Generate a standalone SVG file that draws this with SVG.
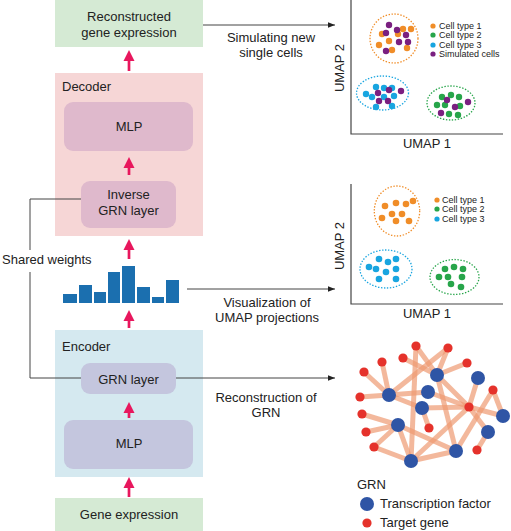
<svg xmlns="http://www.w3.org/2000/svg" width="511" height="531" viewBox="0 0 511 531">
<defs>
<style>
text{font-family:"Liberation Sans",Arial,sans-serif;fill:#222;}
.t13{font-size:13px;}
.mid{text-anchor:middle;}
.leg{font-size:9px;}
.pink{stroke:#e8175d;stroke-width:2.7;fill:none;}
.ph{fill:#e8175d;}
.conn{stroke:#444;stroke-width:1;fill:none;}
.axis{stroke:#444;stroke-width:1.2;fill:none;}
.bar{fill:#1b6faf;}
.or{fill:#f08d28;}.gr{fill:#27a54a;}.bl{fill:#18a5e0;}.pu{fill:#7a1f80;}
.ell{fill:none;stroke-width:1.3;stroke-dasharray:1.4 1.6;}
.edge{stroke:#ee9a72;stroke-opacity:0.7;stroke-width:5;fill:none;}
.tf{fill:#2f55a5;}.tg{fill:#e5322b;}
</style>
<marker id="ah" viewBox="0 0 10 10" refX="10" refY="5" markerWidth="7" markerHeight="7" markerUnits="userSpaceOnUse" orient="auto">
<path d="M0,1 L10,5 L0,9 z" fill="#222"/>
</marker>
</defs>

<g id="node-reconstructed">
<rect x="55" y="0" width="148" height="47" fill="#d5ead4"/>
<text class="t13 mid" x="129" y="21">Reconstructed</text>
<text class="t13 mid" x="129" y="37">gene expression</text>
</g>

<g id="node-decoder">
<rect x="55" y="73" width="148" height="163" fill="#f6d6d6"/>
<text class="t13" x="62" y="91">Decoder</text>
</g>
<g id="node-decoder-mlp">
<rect x="64" y="102" width="129" height="49" rx="9" fill="#dfb9cc"/>
<text class="t13 mid" x="129" y="131">MLP</text>
</g>
<g id="node-inverse-grn">
<rect x="81" y="181" width="95" height="47" rx="9" fill="#dfb9cc"/>
<text class="t13 mid" x="128.5" y="199">Inverse</text>
<text class="t13 mid" x="128.5" y="215">GRN layer</text>
</g>

<g id="node-latent">
<rect class="bar" x="63" y="294" width="14" height="9"/>
<rect class="bar" x="79" y="285" width="13" height="18"/>
<rect class="bar" x="94" y="292" width="12" height="11"/>
<rect class="bar" x="108" y="272" width="12" height="31"/>
<rect class="bar" x="122" y="266" width="13" height="37"/>
<rect class="bar" x="137" y="287" width="13" height="16"/>
<rect class="bar" x="152" y="297" width="12" height="6"/>
<rect class="bar" x="166" y="280" width="13" height="23"/>
</g>

<g id="node-encoder">
<rect x="55" y="330" width="148" height="147" fill="#d5e9f0"/>
<text class="t13" x="62" y="351">Encoder</text>
</g>
<g id="node-grn-layer">
<rect x="81" y="363" width="95" height="31" rx="9" fill="#c4c6de"/>
<text class="t13 mid" x="128.5" y="384">GRN layer</text>
</g>
<g id="node-encoder-mlp">
<rect x="64" y="420" width="129" height="49" rx="9" fill="#c4c6de"/>
<text class="t13 mid" x="129" y="448">MLP</text>
</g>

<g id="node-gene-expression">
<rect x="55" y="498" width="148" height="33" fill="#d5ead4"/>
<text class="t13 mid" x="129" y="519">Gene expression</text>
</g>

<g id="node-shared-weights">
<text class="t13" x="2" y="264">Shared weights</text>
</g>

<g id="connectors">
<path class="pink" d="M129,71 V58"/><path class="ph" d="M129,50 L134.5,61 L123.5,61 z"/>
<path class="pink" d="M129,175 V165"/><path class="ph" d="M129,157 L134.5,168 L123.5,168 z"/>
<path class="pink" d="M129,259 V247"/><path class="ph" d="M129,239 L134.5,250 L123.5,250 z"/>
<path class="pink" d="M129,328 V318"/><path class="ph" d="M129,310 L134.5,321 L123.5,321 z"/>
<path class="pink" d="M129,418 V410"/><path class="ph" d="M129,402 L134.5,413 L123.5,413 z"/>
<path class="pink" d="M129,497 V485"/><path class="ph" d="M129,477 L134.5,488 L123.5,488 z"/>
<path class="conn" d="M81,199 H30 V250"/>
<path class="conn" d="M30,272 V378 H81"/>
<path class="conn" d="M203,25 H335" marker-end="url(#ah)"/>
<path class="conn" d="M187,289 H335" marker-end="url(#ah)"/>
<path class="conn" d="M176,378 H335" marker-end="url(#ah)"/>
<text class="t13 mid" x="271" y="42">Simulating new</text>
<text class="t13 mid" x="271" y="57">single cells</text>
<text class="t13 mid" x="267" y="307">Visualization of</text>
<text class="t13 mid" x="267" y="322">UMAP projections</text>
<text class="t13 mid" x="266" y="402">Reconstruction of</text>
<text class="t13 mid" x="266" y="417">GRN</text>
</g>

<g id="node-umap-simulated">
<path class="axis" d="M351,0 V134 H503"/>
<text class="t13 mid" x="344" y="68" transform="rotate(-90 344 68)">UMAP 2</text>
<text class="t13 mid" x="427" y="148">UMAP 1</text>
<ellipse class="ell" cx="394" cy="38.5" rx="24" ry="24.5" stroke="#f08d28"/>
<ellipse class="ell" cx="382.5" cy="93" rx="26" ry="17" stroke="#18a5e0"/>
<ellipse class="ell" cx="451" cy="103" rx="24" ry="17" stroke="#27a54a"/>
<g class="or">
<circle cx="382" cy="34" r="3.2"/><circle cx="403" cy="29" r="3.2"/><circle cx="411" cy="29" r="3.2"/><circle cx="379" cy="45" r="3.2"/><circle cx="389" cy="41" r="3.2"/><circle cx="392" cy="50" r="3.2"/><circle cx="407" cy="48" r="3.2"/><circle cx="398" cy="34" r="3.2"/>
</g>
<g class="pu">
<circle cx="389" cy="25" r="3.2"/><circle cx="386" cy="33" r="3.2"/><circle cx="397" cy="30" r="3.2"/><circle cx="406" cy="35" r="3.2"/><circle cx="399" cy="42" r="3.2"/><circle cx="408" cy="42" r="3.2"/><circle cx="386" cy="51" r="3.2"/>
</g>
<g class="bl">
<circle cx="376" cy="87" r="3.2"/><circle cx="384" cy="88" r="3.2"/><circle cx="392" cy="88" r="3.2"/><circle cx="366" cy="94" r="3.2"/><circle cx="372" cy="97" r="3.2"/><circle cx="384" cy="97" r="3.2"/><circle cx="394" cy="96" r="3.2"/><circle cx="376" cy="107" r="3.2"/><circle cx="392" cy="106" r="3.2"/>
</g>
<g class="pu">
<circle cx="378" cy="93" r="3.2"/><circle cx="389" cy="90" r="3.2"/><circle cx="401" cy="91" r="3.2"/><circle cx="388" cy="101" r="3.2"/><circle cx="379" cy="101" r="3.2"/>
</g>
<g class="gr">
<circle cx="442" cy="97" r="3.2"/><circle cx="451" cy="95" r="3.2"/><circle cx="459" cy="97" r="3.2"/><circle cx="437" cy="105" r="3.2"/><circle cx="445" cy="105" r="3.2"/><circle cx="460" cy="106" r="3.2"/><circle cx="449" cy="114" r="3.2"/><circle cx="458" cy="115" r="3.2"/>
</g>
<g class="pu">
<circle cx="455" cy="107" r="3.2"/><circle cx="468" cy="102" r="3.2"/><circle cx="441" cy="113" r="3.2"/><circle cx="447" cy="100" r="3.2"/>
</g>
<circle class="or" cx="433" cy="26" r="2.6"/><text class="leg" x="439" y="29">Cell type 1</text>
<circle class="gr" cx="433" cy="35" r="2.6"/><text class="leg" x="439" y="38">Cell type 2</text>
<circle class="bl" cx="433" cy="45" r="2.6"/><text class="leg" x="439" y="48">Cell type 3</text>
<circle class="pu" cx="433" cy="54" r="2.6"/><text class="leg" x="439" y="57">Simulated cells</text>
</g>

<g id="node-umap-latent">
<path class="axis" d="M351,184 V304 H503"/>
<text class="t13 mid" x="344" y="246" transform="rotate(-90 344 246)">UMAP 2</text>
<text class="t13 mid" x="427" y="318">UMAP 1</text>
<ellipse class="ell" cx="397" cy="211" rx="22.7" ry="25" stroke="#f08d28"/>
<ellipse class="ell" cx="386" cy="269" rx="26" ry="19" stroke="#18a5e0"/>
<ellipse class="ell" cx="454.5" cy="277" rx="24.5" ry="17.5" stroke="#27a54a"/>
<g class="or">
<circle cx="385" cy="206" r="3.3"/><circle cx="396" cy="203" r="3.3"/><circle cx="406" cy="204" r="3.3"/><circle cx="413" cy="201" r="3.3"/><circle cx="382" cy="218" r="3.3"/><circle cx="392" cy="214" r="3.3"/><circle cx="402" cy="214" r="3.3"/><circle cx="396" cy="221" r="3.3"/><circle cx="409" cy="221" r="3.3"/>
</g>
<g class="bl">
<circle cx="379" cy="259" r="3.3"/><circle cx="388" cy="262" r="3.3"/><circle cx="396" cy="259" r="3.3"/><circle cx="369" cy="267" r="3.3"/><circle cx="376" cy="269" r="3.3"/><circle cx="386" cy="272" r="3.3"/><circle cx="396" cy="269" r="3.3"/><circle cx="379" cy="279" r="3.3"/><circle cx="396" cy="279" r="3.3"/>
</g>
<g class="gr">
<circle cx="454" cy="267" r="3.3"/><circle cx="445" cy="269" r="3.3"/><circle cx="463" cy="269" r="3.3"/><circle cx="439" cy="277" r="3.3"/><circle cx="448" cy="277" r="3.3"/><circle cx="462" cy="277" r="3.3"/><circle cx="451" cy="284" r="3.3"/><circle cx="461" cy="287" r="3.3"/>
</g>
<circle class="or" cx="437" cy="200" r="2.6"/><text class="leg" x="442" y="203">Cell type 1</text>
<circle class="gr" cx="437" cy="209" r="2.6"/><text class="leg" x="442" y="212">Cell type 2</text>
<circle class="bl" cx="437" cy="219" r="2.6"/><text class="leg" x="442" y="222">Cell type 3</text>
</g>

<g id="node-grn">
<g class="edge">
<line x1="389" y1="395" x2="382" y2="362"/>
<line x1="389" y1="395" x2="364" y2="372"/>
<line x1="389" y1="395" x2="360" y2="397"/>
<line x1="389" y1="395" x2="448" y2="348"/>
<line x1="389" y1="395" x2="428" y2="392"/>
<line x1="389" y1="395" x2="422" y2="408"/>
<line x1="416" y1="346" x2="411" y2="461"/>
<line x1="416" y1="346" x2="437" y2="375"/>
<line x1="403" y1="358" x2="437" y2="375"/>
<line x1="448" y1="348" x2="437" y2="375"/>
<line x1="467" y1="363" x2="437" y2="375"/>
<line x1="437" y1="375" x2="469" y2="407"/>
<line x1="437" y1="375" x2="456" y2="451"/>
<line x1="428" y1="392" x2="469" y2="407"/>
<line x1="422" y1="408" x2="469" y2="407"/>
<line x1="422" y1="408" x2="429" y2="428"/>
<line x1="478" y1="378" x2="469" y2="407"/>
<line x1="493" y1="390" x2="503" y2="416"/>
<line x1="493" y1="390" x2="456" y2="451"/>
<line x1="469" y1="407" x2="503" y2="416"/>
<line x1="469" y1="407" x2="488" y2="432"/>
<line x1="469" y1="407" x2="411" y2="461"/>
<line x1="362" y1="414" x2="398" y2="425"/>
<line x1="366" y1="432" x2="398" y2="425"/>
<line x1="374" y1="447" x2="398" y2="425"/>
<line x1="374" y1="447" x2="411" y2="461"/>
<line x1="398" y1="425" x2="411" y2="461"/>
<line x1="398" y1="425" x2="456" y2="451"/>
<line x1="411" y1="461" x2="456" y2="451"/>
<line x1="477" y1="450" x2="488" y2="432"/>
</g>
<g class="tg">
<circle cx="416" cy="346" r="4.6"/><circle cx="448" cy="348" r="4.6"/><circle cx="382" cy="362" r="4.6"/><circle cx="403" cy="358" r="4.6"/><circle cx="467" cy="363" r="4.6"/><circle cx="364" cy="372" r="4.6"/><circle cx="360" cy="397" r="4.6"/><circle cx="362" cy="414" r="4.6"/><circle cx="429" cy="428" r="4.6"/><circle cx="469" cy="407" r="4.6"/><circle cx="493" cy="390" r="4.6"/><circle cx="366" cy="432" r="4.6"/><circle cx="374" cy="447" r="4.6"/><circle cx="477" cy="450" r="4.6"/>
</g>
<g class="tf">
<circle cx="389" cy="395" r="7"/><circle cx="437" cy="375" r="7"/><circle cx="428" cy="392" r="7"/><circle cx="422" cy="408" r="7"/><circle cx="398" cy="425" r="7"/><circle cx="478" cy="378" r="7"/><circle cx="503" cy="416" r="7"/><circle cx="488" cy="432" r="7"/><circle cx="456" cy="451" r="7"/><circle cx="411" cy="461" r="7"/>
</g>
<text class="t13" x="357" y="489">GRN</text>
<circle class="tf" cx="367" cy="504" r="7"/>
<text class="t13" x="380" y="508">Transcription factor</text>
<circle class="tg" cx="367" cy="523" r="4.6"/>
<text class="t13" x="380" y="527">Target gene</text>
</g>
</svg>
